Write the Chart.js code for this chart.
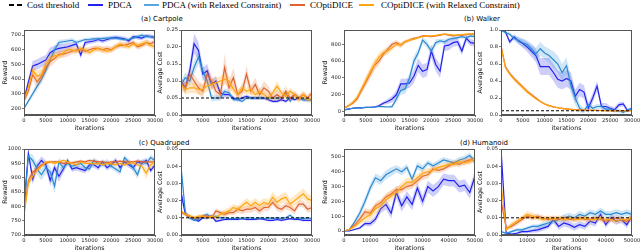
<!DOCTYPE html>
<html><head><meta charset="utf-8">
<script src="https://cdn.jsdelivr.net/npm/chart.js@4.4.0/dist/chart.umd.min.js"></script>
<style>
body{margin:0;width:640px;height:251px;background:#fff;position:relative;overflow:hidden;font-family:"DejaVu Sans",sans-serif}
canvas{position:absolute}
.t{position:absolute;font-size:7px;color:#000;white-space:nowrap;transform:translate(-50%,-50%);line-height:9px}
.lg{position:absolute;font-family:"Liberation Serif",serif;font-size:9px;top:0;line-height:10px;white-space:nowrap;color:#000}
.ls{position:absolute;height:0;top:4px;width:15px}
</style></head><body>
<svg style="position:absolute;left:8px;top:3px" width="16" height="4"><line x1="1" y1="2" x2="15" y2="2" stroke="#000" stroke-width="2" stroke-dasharray="5,3"/></svg>
<div class="lg" style="left:27px">Cost threshold</div>
<div class="ls" style="left:88px;border-top:2px solid #2222ee"></div>
<div class="lg" style="left:108px">PDCA</div>
<div class="ls" style="left:144px;border-top:2px solid #5aa6de"></div>
<div class="lg" style="left:162px">PDCA (with Relaxed Constraint)</div>
<div class="ls" style="left:290px;border-top:2px solid #e0622e"></div>
<div class="lg" style="left:310px">COptiDICE</div>
<div class="ls" style="left:359px;border-top:2px solid #ffa510"></div>
<div class="lg" style="left:381px">COptiDICE (with Relaxed Constraint)</div>
<div class="t" style="left:162px;top:19px">(a) Cartpole</div>
<div class="t" style="left:482px;top:19px">(b) Walker</div>
<div class="t" style="left:164px;top:143px">(c) Quadruped</div>
<div class="t" style="left:484px;top:143px">(d) Humanoid</div>
<script>
// ---------- x values ----------
const iters30k = [0,1000,2000,3000,4000,5000,6000,7000,8000,9000,10000,11000,12000,13000,14000,15000,16000,17000,18000,19000,20000,21000,22000,23000,24000,25000,26000,27000,28000,29000,30000];
const iters50k = [0,2000,4000,6000,8000,10000,12000,14000,16000,18000,20000,22000,24000,26000,28000,30000,32000,34000,36000,38000,40000,42000,44000,46000,48000,50000];
const xTicks30k = [0,5000,10000,15000,20000,25000,30000];
const xTicks50k = [0,10000,20000,30000,40000,50000];
const costThresholdA = 0.05; // Cartpole, Walker
const costThresholdB = 0.01; // Quadruped, Humanoid

// ---------- (a) Cartpole reward ----------
const cpRewTicks = [200,300,400,500,600,700];
const cpRewPdca   = [260,380,490,500,515,530,580,600,610,615, 620,630,640,565,650,655,660,670,660,670, 680,685,680,675,660,690,685,680,695,690, 685];
const cpRewPdcaSd = [20,30,35,35,35,35,35,30,30,25, 25,20,20,25,20,15,15,15,15,15, 15,15,15,15,15,15,15,15,15,15, 15];
const cpRewRel    = [200,250,300,350,400,460,530,600,650,655, 660,665,650,660,670,672,675,675,678,680, 680,680,675,670,672,680,690,700,690,690, 680];
const cpRewRelSd  = [10,15,20,25,30,30,30,25,20,15, 15,15,15,12,12,12,12,12,12,12, 12,12,12,12,12,12,12,12,12,12, 12];
const cpRewCop    = [250,320,430,380,420,480,520,540,570,570, 580,590,600,600,590,600,610,610,600,610, 600,620,630,630,640,650,620,630,650,640, 660];
const cpRewCopSd  = [20,30,40,40,40,40,35,30,25,25, 25,20,20,20,20,20,20,20,20,20, 20,20,20,20,20,20,20,20,20,20, 20];
const cpRewCopRel   = [260,340,460,420,430,500,540,560,560,580, 600,600,590,610,600,580,600,610,600,590, 600,620,640,630,620,640,630,640,650,630, 620];
const cpRewCopRelSd = [20,30,40,40,40,35,30,25,25,25, 20,20,20,20,20,20,20,20,20,20, 20,20,20,20,20,20,20,20,20,20, 20];

// ---------- (a) Cartpole cost ----------
const cpCostTicks = [0,0.05,0.10,0.15,0.20,0.25];
const cpCostPdca   = [0.10,0.08,0.13,0.21,0.19,0.12,0.13,0.09,0.10,0.065, 0.06,0.06,0.05,0.045,0.05,0.055,0.05,0.05,0.05,0.05, 0.045,0.04,0.04,0.045,0.04,0.05,0.045,0.05,0.045,0.045, 0.045];
const cpCostPdcaSd = [0.01,0.015,0.02,0.03,0.025,0.02,0.02,0.015,0.015,0.01, 0.01,0.008,0.006,0.005,0.005,0.005,0.005,0.005,0.005,0.005, 0.005,0.005,0.005,0.005,0.005,0.005,0.005,0.005,0.005,0.005, 0.005];
const cpCostRel    = [0.09,0.11,0.10,0.14,0.17,0.13,0.10,0.05,0.05,0.05, 0.07,0.065,0.045,0.045,0.04,0.05,0.05,0.05,0.05,0.05, 0.05,0.05,0.05,0.05,0.065,0.04,0.06,0.05,0.045,0.045, 0.045];
const cpCostRelSd  = [0.01,0.015,0.015,0.02,0.02,0.02,0.015,0.01,0.008,0.008, 0.008,0.008,0.006,0.005,0.005,0.005,0.005,0.005,0.005,0.005, 0.005,0.005,0.005,0.005,0.006,0.005,0.005,0.005,0.005,0.005, 0.005];
const cpCostCop    = [0.09,0.08,0.12,0.10,0.08,0.07,0.12,0.10,0.07,0.06, 0.14,0.08,0.11,0.06,0.07,0.12,0.07,0.09,0.06,0.08, 0.07,0.05,0.06,0.05,0.07,0.05,0.06,0.05,0.06,0.05, 0.065];
const cpCostCopSd  = [0.015,0.015,0.02,0.02,0.02,0.02,0.02,0.02,0.015,0.015, 0.04,0.02,0.03,0.015,0.015,0.025,0.015,0.02,0.015,0.02, 0.015,0.01,0.015,0.01,0.015,0.01,0.01,0.01,0.01,0.01, 0.01];
const cpCostCopRel   = [0.09,0.075,0.08,0.08,0.075,0.075,0.085,0.09,0.095,0.10, 0.105,0.10,0.075,0.06,0.08,0.07,0.075,0.06,0.07,0.06, 0.05,0.065,0.085,0.065,0.055,0.07,0.06,0.045,0.06,0.045, 0.05];
const cpCostCopRelSd = [0.015,0.015,0.015,0.015,0.015,0.015,0.015,0.015,0.015,0.015, 0.015,0.015,0.015,0.01,0.015,0.01,0.015,0.01,0.01,0.01, 0.01,0.01,0.015,0.01,0.01,0.01,0.01,0.01,0.01,0.01, 0.01];

// ---------- (b) Walker reward ----------
const wkRewTicks = [0,200,400,600,800];
const wkRewPdca   = [20,30,40,45,45,50,50,55,70,100, 120,150,200,330,330,340,420,550,480,500, 720,560,480,780,790,820,830,720,870,820, 810];
const wkRewPdcaSd = [5,5,5,5,5,5,5,10,15,20, 30,40,50,60,60,60,80,80,80,80, 80,80,80,60,60,50,50,50,40,40, 40];
const wkRewRel    = [20,30,40,45,45,50,50,55,60,60, 55,60,150,250,270,400,600,700,850,800, 720,820,840,830,860,870,880,890,880,900, 890];
const wkRewRelSd  = [5,5,5,5,5,5,5,5,5,10, 10,20,40,50,60,60,60,50,40,40, 40,40,30,30,20,20,20,20,20,20, 20];
const wkRewCop    = [40,70,100,150,250,350,450,550,600,680, 740,800,820,790,830,850,870,880,900,900, 890,900,910,920,910,900,910,910,915,920, 920];
const wkRewCopSd  = [10,15,20,30,40,50,60,60,50,40, 40,30,30,30,20,20,15,15,10,10, 10,10,10,10,10,10,10,10,10,10, 10];
const wkRewCopRel   = [40,70,110,170,270,370,470,560,650,700, 720,760,800,790,830,850,860,880,890,900, 900,905,915,920,915,910,910,915,920,920, 920];
const wkRewCopRelSd = [10,15,20,30,40,50,60,60,50,40, 40,30,30,30,20,20,15,15,10,10, 10,10,10,10,10,10,10,10,10,10, 10];

// ---------- (b) Walker cost ----------
const wkCostTicks = [0,0.2,0.4,0.6,0.8,1.0];
const wkCostPdca   = [1.0,0.98,0.86,0.92,0.87,0.84,0.80,0.75,0.70,0.57, 0.57,0.57,0.50,0.42,0.40,0.43,0.40,0.22,0.30,0.27, 0.08,0.20,0.34,0.10,0.10,0.08,0.06,0.12,0.13,0.05, 0.08];
const wkCostPdcaSd = [0.01,0.02,0.03,0.03,0.04,0.05,0.06,0.07,0.08,0.1, 0.1,0.1,0.1,0.1,0.1,0.1,0.1,0.08,0.08,0.08, 0.06,0.06,0.06,0.04,0.04,0.03,0.03,0.03,0.03,0.02, 0.02];
const wkCostRel    = [1.0,0.97,0.95,0.90,0.88,0.85,0.83,0.78,0.72,0.78, 0.73,0.70,0.65,0.60,0.50,0.58,0.35,0.20,0.08,0.05, 0.12,0.08,0.10,0.10,0.07,0.07,0.05,0.05,0.03,0.06, 0.07];
const wkCostRelSd  = [0.01,0.02,0.02,0.03,0.04,0.05,0.05,0.06,0.07,0.08, 0.08,0.08,0.1,0.1,0.1,0.1,0.1,0.08,0.05,0.03, 0.04,0.03,0.03,0.03,0.02,0.02,0.02,0.02,0.02,0.02, 0.02];
const wkCostCop    = [0.82,0.57,0.49,0.43,0.38,0.33,0.28,0.24,0.20,0.16, 0.13,0.11,0.095,0.085,0.078,0.072,0.067,0.063,0.06,0.058, 0.056,0.055,0.054,0.053,0.052,0.052,0.051,0.051,0.05,0.05, 0.05];
const wkCostCopSd  = [0.01,0.02,0.02,0.02,0.02,0.02,0.02,0.015,0.015,0.01, 0.01,0.01,0.008,0.006,0.005,0.005,0.005,0.005,0.005,0.005, 0.005,0.005,0.005,0.005,0.005,0.005,0.005,0.005,0.005,0.005, 0.005];
const wkCostCopRel   = [0.80,0.56,0.48,0.42,0.37,0.32,0.27,0.23,0.19,0.16, 0.13,0.11,0.095,0.085,0.076,0.07,0.066,0.062,0.058,0.056, 0.055,0.054,0.053,0.052,0.051,0.05,0.05,0.05,0.05,0.05, 0.05];
const wkCostCopRelSd = [0.01,0.02,0.02,0.02,0.02,0.02,0.02,0.015,0.015,0.01, 0.01,0.01,0.008,0.006,0.005,0.005,0.005,0.005,0.005,0.005, 0.005,0.005,0.005,0.005,0.005,0.005,0.005,0.005,0.005,0.005, 0.005];

// ---------- (c) Quadruped reward ----------
const qdRewTicks = [700,750,800,850,900,950,1000];
const qdRewPdca   = [800,985,895,940,960,945,890,935,905,930, 960,930,935,930,925,945,945,935,955,935, 945,960,935,955,945,935,955,950,960,925, 945];
const qdRewPdcaSd = [30,10,20,15,15,15,20,15,20,15, 10,10,10,10,10,10,10,10,10,10, 10,10,10,10,10,10,10,10,10,10, 10];
const qdRewRel    = [790,975,960,930,910,935,920,870,955,935, 950,940,945,950,935,930,960,950,945,955, 940,930,920,970,955,935,910,955,950,970, 960];
const qdRewRelSd  = [30,10,20,20,20,20,20,25,15,15, 10,10,10,10,10,10,10,10,10,10, 10,10,10,10,10,15,15,10,10,10, 10];
const qdRewCop    = [780,890,920,930,945,950,955,955,955,950, 950,952,955,958,955,960,958,955,955,952, 955,955,958,955,955,955,958,955,955,955, 955];
const qdRewCopSd  = [20,15,10,8,6,5,5,5,5,5, 5,5,5,5,5,5,5,5,5,5, 5,5,5,5,5,5,5,5,5,5, 5];
const qdRewCopRel   = [770,880,905,925,940,955,955,950,955,960, 955,950,945,955,950,950,948,950,945,950, 948,945,950,945,950,952,945,940,915,945, 955];
const qdRewCopRelSd = [20,15,10,8,6,5,5,5,5,5, 5,5,5,5,5,5,5,5,5,5, 5,5,5,5,5,5,8,10,20,10, 8];

// ---------- (c) Quadruped cost ----------
const qdCostTicks = [0,0.01,0.02,0.03,0.04,0.05];
const qdCostPdca   = [0.025,0.012,0.010,0.0095,0.008,0.010,0.010,0.011,0.008,0.0085, 0.009,0.009,0.009,0.009,0.0095,0.009,0.009,0.009,0.0095,0.009, 0.0085,0.0085,0.009,0.0085,0.009,0.0095,0.009,0.009,0.0085,0.0085, 0.0085];
const qdCostPdcaSd = [0.004,0.001,0.001,0.001,0.0008,0.0008,0.001,0.001,0.0008,0.0008, 0.0006,0.0006,0.0006,0.0006,0.0006,0.0006,0.0006,0.0006,0.0006,0.0006, 0.0006,0.0006,0.0006,0.0006,0.0006,0.0006,0.0006,0.0006,0.0006,0.0006, 0.0006];
const qdCostRel    = [0.040,0.013,0.010,0.0085,0.009,0.011,0.012,0.010,0.011,0.010, 0.010,0.0095,0.0095,0.010,0.0095,0.010,0.010,0.0095,0.010,0.0095, 0.010,0.0095,0.010,0.0095,0.010,0.0115,0.0095,0.010,0.0095,0.010, 0.0095];
const qdCostRelSd  = [0.003,0.0015,0.001,0.001,0.001,0.001,0.0012,0.001,0.001,0.0008, 0.0006,0.0006,0.0006,0.0006,0.0006,0.0006,0.0006,0.0006,0.0006,0.0006, 0.0006,0.0006,0.0006,0.0006,0.0006,0.0008,0.0006,0.0006,0.0006,0.0006, 0.0006];
const qdCostCop    = [0.013,0.012,0.011,0.010,0.010,0.011,0.011,0.010,0.014,0.013, 0.012,0.013,0.013,0.015,0.014,0.015,0.015,0.016,0.014,0.016, 0.016,0.019,0.016,0.015,0.017,0.016,0.014,0.018,0.018,0.015, 0.016];
const qdCostCopSd  = [0.001,0.001,0.001,0.001,0.001,0.001,0.001,0.001,0.0015,0.0015, 0.0015,0.0015,0.0015,0.002,0.002,0.002,0.002,0.002,0.002,0.002, 0.002,0.002,0.002,0.002,0.002,0.002,0.002,0.002,0.002,0.002, 0.002];
const qdCostCopRel   = [0.014,0.012,0.011,0.010,0.011,0.011,0.010,0.011,0.010,0.012, 0.013,0.014,0.016,0.015,0.017,0.019,0.017,0.019,0.017,0.019, 0.018,0.022,0.019,0.021,0.022,0.018,0.020,0.022,0.024,0.021, 0.020];
const qdCostCopRelSd = [0.001,0.001,0.001,0.001,0.001,0.001,0.001,0.001,0.0015,0.0015, 0.002,0.002,0.002,0.002,0.002,0.0025,0.0025,0.0025,0.0025,0.0025, 0.0025,0.003,0.003,0.003,0.003,0.003,0.003,0.003,0.003,0.003, 0.003];

// ---------- (d) Humanoid reward ----------
const hmRewTicks = [0,100,200,300,400,500];
const hmRewPdca   = [0,0,10,20,50,50,80,150,180,120, 260,170,230,180,290,200,300,270,300,350, 340,340,300,310,260,370];
const hmRewPdcaSd = [2,2,5,10,15,20,25,30,35,35, 40,40,40,40,40,40,40,40,40,40, 40,40,40,40,40,40];
const hmRewRel    = [0,10,60,120,200,290,360,340,380,400, 420,400,430,350,440,420,460,440,460,480, 470,460,480,490,510,470];
const hmRewRelSd  = [2,5,15,25,30,30,30,30,30,30, 25,25,25,25,25,25,20,20,20,20, 20,20,20,20,20,20];
const hmRewCop    = [0,10,40,80,130,120,170,190,230,250, 280,280,300,310,340,370,380,420,410,420, 440,460,450,470,480,480];
const hmRewCopSd  = [2,5,15,20,25,25,25,25,25,25, 25,25,25,25,25,25,25,20,20,20, 20,20,20,20,20,20];
const hmRewCopRel   = [0,10,30,60,90,110,150,170,210,240, 260,300,330,330,360,390,400,410,430,440, 450,450,470,460,470,490];
const hmRewCopRelSd = [2,5,15,20,30,35,35,35,35,35, 30,30,30,30,25,25,25,20,20,20, 20,20,20,20,20,20];

// ---------- (d) Humanoid cost ----------
const hmCostTicks = [0,0.01,0.02,0.03,0.04,0.05];
const hmCostPdca   = [0.05,0.001,0.0005,0.001,0.002,0.002,0.0025,0.003,0.004,0.005, 0.009,0.005,0.007,0.006,0.0045,0.006,0.005,0.008,0.007,0.012, 0.006,0.010,0.008,0.009,0.006,0.011];
const hmCostPdcaSd = [0.002,0.0005,0.0005,0.0008,0.001,0.001,0.0012,0.0015,0.0015,0.0015, 0.002,0.002,0.002,0.002,0.002,0.002,0.002,0.002,0.002,0.002, 0.002,0.002,0.002,0.002,0.002,0.002];
const hmCostRel    = [0.002,0.001,0.002,0.003,0.003,0.004,0.005,0.005,0.006,0.007, 0.008,0.009,0.010,0.011,0.010,0.012,0.011,0.013,0.012,0.014, 0.012,0.012,0.013,0.012,0.013,0.012];
const hmCostRelSd  = [0.0005,0.0005,0.0008,0.001,0.001,0.001,0.0012,0.0012,0.0015,0.0015, 0.0015,0.0015,0.002,0.002,0.002,0.002,0.002,0.002,0.002,0.002, 0.002,0.002,0.002,0.002,0.002,0.002];
const hmCostCop    = [0.02,0.004,0.005,0.007,0.009,0.011,0.010,0.011,0.010,0.009, 0.010,0.009,0.010,0.009,0.009,0.010,0.009,0.009,0.010,0.009, 0.008,0.009,0.010,0.009,0.008,0.010];
const hmCostCopSd  = [0.002,0.001,0.0015,0.0015,0.0015,0.0015,0.0015,0.0015,0.0015,0.0015, 0.0015,0.0015,0.0015,0.0015,0.0015,0.0015,0.0015,0.0015,0.0015,0.0015, 0.0015,0.0015,0.0015,0.0015,0.0015,0.0015];
const hmCostCopRel   = [0.03,0.003,0.006,0.008,0.010,0.012,0.011,0.010,0.009,0.010, 0.009,0.010,0.009,0.010,0.009,0.009,0.010,0.009,0.009,0.010, 0.009,0.009,0.008,0.009,0.009,0.010];
const hmCostCopRelSd = [0.002,0.001,0.0015,0.0015,0.0015,0.002,0.002,0.0015,0.0015,0.0015, 0.0015,0.0015,0.0015,0.0015,0.0015,0.0015,0.0015,0.0015,0.0015,0.0015, 0.0015,0.0015,0.0015,0.0015,0.0015,0.0015];

// ---------- styling / drawing ----------
const COL = {pdca:'#2222ee', rel:'#2b8ad2', cop:'#e0622e', copRel:'#ffa510'};
const BAND = {pdca:'rgba(34,34,238,0.22)', rel:'rgba(43,138,210,0.22)', cop:'rgba(224,98,46,0.22)', copRel:'rgba(255,165,16,0.25)'};

const framePlugin = {id:'frame', afterDraw(c){
  const a=c.chartArea, ctx=c.ctx; ctx.save(); ctx.strokeStyle='#555'; ctx.lineWidth=1;
  ctx.strokeRect(Math.round(a.left)+0.5, Math.round(a.top)+0.5, Math.round(a.right-a.left)-1, Math.round(a.bottom-a.top)-1);
  ctx.restore();
}};

function pts(xs, ys){ return xs.map((x,i)=>({x:x, y:ys[i]})); }

function makePanel(p){
  const yW = p.yW, xH = 18, padT = 8, padR = 12;
  const left = p.l - yW, top = p.t - padT;
  const W = p.r - left + padR, H = p.b - top + xH;
  const cv = document.createElement('canvas');
  cv.width = W; cv.height = H;
  cv.style.left = left+'px'; cv.style.top = top+'px';
  cv.style.width = W+'px'; cv.style.height = H+'px';
  document.body.appendChild(cv);
  const ds = [];
  if (p.thr !== undefined) {
    ds.push({data:[{x:0,y:p.thr},{x:p.xMax,y:p.thr}], borderColor:'#000', borderWidth:1, borderDash:[3,2], pointRadius:0, fill:false});
  }
  // later series drawn on top -> listed first
  const order = ['copRel','cop','rel','pdca'];
  for (const k of order) {
    const s = p.series[k];
    ds.push({data:pts(p.x, s[0]), borderColor:COL[k], borderWidth:1.2, pointRadius:0, fill:false, tension:0});
    ds.push({data:pts(p.x, s[0].map((v,i)=>v+s[1][i])), borderWidth:0, borderColor:'transparent', pointRadius:0, backgroundColor:BAND[k], fill:'+1', tension:0});
    ds.push({data:pts(p.x, s[0].map((v,i)=>v-s[1][i])), borderWidth:0, borderColor:'transparent', pointRadius:0, fill:false, tension:0});
  }
  new Chart(cv, {
    type:'line',
    data:{datasets:ds},
    options:{
      responsive:false, animation:false, devicePixelRatio:1,
      layout:{autoPadding:false, padding:{left:0, top:padT, right:padR, bottom:0}},
      plugins:{legend:{display:false}, tooltip:{enabled:false}},
      scales:{
        x:{type:'linear', min:0, max:p.xMax,
           afterFit(s){ s.height = xH; },
           afterBuildTicks(s){ s.ticks = p.xTicks.map(v=>({value:v})); },
           ticks:{font:{family:'DejaVu Sans', size:5.2}, color:'#222', padding:1, maxRotation:0, autoSkip:false, callback:v=>String(v)},
           grid:{display:true, drawOnChartArea:false, tickLength:2, color:'#555', lineWidth:0.8},
           border:{display:true, color:'#555'},
           title:{display:true, text:'iterations', font:{family:'DejaVu Sans', size:6.3}, color:'#111', padding:{top:0,bottom:1}}},
        y:{type:'linear', min:p.yMin, max:p.yMax,
           afterFit(s){ s.width = yW; },
           afterBuildTicks(s){ s.ticks = p.yTicks.map(v=>({value:v})); },
           ticks:{font:{family:'DejaVu Sans', size:5.2}, color:'#222', padding:1, autoSkip:false, callback:v=>Number(v).toFixed(p.dec)},
           grid:{display:true, drawOnChartArea:false, tickLength:2, color:'#555', lineWidth:0.8},
           border:{display:true, color:'#555'},
           title:{display:true, text:p.yTitle, font:{family:'DejaVu Sans', size:6.3}, color:'#111', padding:{top:1.2,bottom:0}}}
      }
    },
    plugins:[framePlugin]
  });
}

const TOP = {t:30, b:115}, BOT = {t:149, b:235};
const C1 = {l:24, r:155, yW:24}, C2 = {l:181, r:312, yW:26}, C3 = {l:344, r:475, yW:24}, C4 = {l:501, r:632, yW:26};

makePanel({...TOP, ...C1, x:iters30k, xMax:30000, xTicks:xTicks30k, yMin:155, yMax:735, yTicks:cpRewTicks, dec:0, yTitle:'Reward',
  series:{pdca:[cpRewPdca,cpRewPdcaSd], rel:[cpRewRel,cpRewRelSd], cop:[cpRewCop,cpRewCopSd], copRel:[cpRewCopRel,cpRewCopRelSd]}});
makePanel({...TOP, ...C2, x:iters30k, xMax:30000, xTicks:xTicks30k, yMin:0, yMax:0.25, yTicks:cpCostTicks, dec:2, yTitle:'Average Cost', thr:costThresholdA,
  series:{pdca:[cpCostPdca,cpCostPdcaSd], rel:[cpCostRel,cpCostRelSd], cop:[cpCostCop,cpCostCopSd], copRel:[cpCostCopRel,cpCostCopRelSd]}});
makePanel({...TOP, ...C3, x:iters30k, xMax:30000, xTicks:xTicks30k, yMin:-40, yMax:970, yTicks:wkRewTicks, dec:0, yTitle:'Reward',
  series:{pdca:[wkRewPdca,wkRewPdcaSd], rel:[wkRewRel,wkRewRelSd], cop:[wkRewCop,wkRewCopSd], copRel:[wkRewCopRel,wkRewCopRelSd]}});
makePanel({...TOP, ...C4, x:iters30k, xMax:30000, xTicks:xTicks30k, yMin:0, yMax:1.0, yTicks:wkCostTicks, dec:1, yTitle:'Average Cost', thr:costThresholdA,
  series:{pdca:[wkCostPdca,wkCostPdcaSd], rel:[wkCostRel,wkCostRelSd], cop:[wkCostCop,wkCostCopSd], copRel:[wkCostCopRel,wkCostCopRelSd]}});
makePanel({...BOT, ...C1, x:iters30k, xMax:30000, xTicks:xTicks30k, yMin:700, yMax:1000, yTicks:qdRewTicks, dec:0, yTitle:'Reward',
  series:{pdca:[qdRewPdca,qdRewPdcaSd], rel:[qdRewRel,qdRewRelSd], cop:[qdRewCop,qdRewCopSd], copRel:[qdRewCopRel,qdRewCopRelSd]}});
makePanel({...BOT, ...C2, x:iters30k, xMax:30000, xTicks:xTicks30k, yMin:0, yMax:0.05, yTicks:qdCostTicks, dec:2, yTitle:'Average Cost', thr:costThresholdB,
  series:{pdca:[qdCostPdca,qdCostPdcaSd], rel:[qdCostRel,qdCostRelSd], cop:[qdCostCop,qdCostCopSd], copRel:[qdCostCopRel,qdCostCopRelSd]}});
makePanel({...BOT, ...C3, x:iters50k, xMax:50000, xTicks:xTicks50k, yMin:-27, yMax:554, yTicks:hmRewTicks, dec:0, yTitle:'Reward',
  series:{pdca:[hmRewPdca,hmRewPdcaSd], rel:[hmRewRel,hmRewRelSd], cop:[hmRewCop,hmRewCopSd], copRel:[hmRewCopRel,hmRewCopRelSd]}});
makePanel({...BOT, ...C4, x:iters50k, xMax:50000, xTicks:xTicks50k, yMin:0, yMax:0.05, yTicks:hmCostTicks, dec:2, yTitle:'Average Cost', thr:costThresholdB,
  series:{pdca:[hmCostPdca,hmCostPdcaSd], rel:[hmCostRel,hmCostRelSd], cop:[hmCostCop,hmCostCopSd], copRel:[hmCostCopRel,hmCostCopRelSd]}});
</script>
</body></html>
